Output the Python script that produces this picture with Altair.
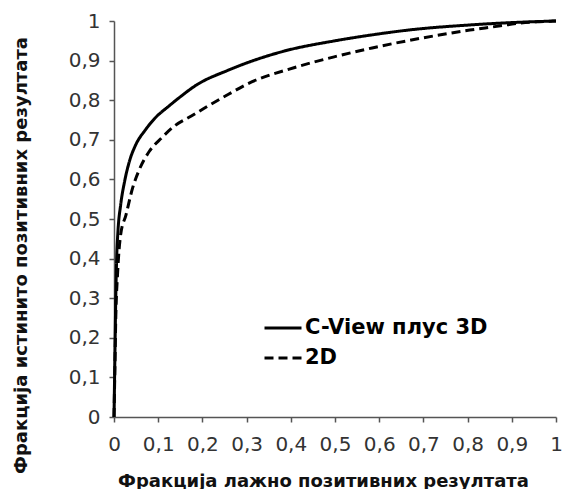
import altair as alt
import pandas as pd

cview_fpr = [0, 0.002, 0.004, 0.006, 0.009, 0.015, 0.024, 0.035, 0.049, 0.071, 0.093, 0.124, 0.146, 0.186, 0.259, 0.385, 0.5, 0.584, 0.673, 0.805, 0.9, 1.0]
cview_tpr = [0, 0.15, 0.3, 0.4, 0.47, 0.535, 0.595, 0.646, 0.687, 0.725, 0.755, 0.785, 0.805, 0.838, 0.876, 0.924, 0.95, 0.965, 0.978, 0.99, 0.996, 1.0]

d2_fpr = [0, 0.002, 0.004, 0.008, 0.015, 0.027, 0.042, 0.057, 0.08, 0.108, 0.137, 0.175, 0.212, 0.259, 0.3, 0.407, 0.5, 0.584, 0.673, 0.805, 0.85, 0.93, 1.0]
d2_tpr = [0, 0.12, 0.25, 0.36, 0.46, 0.51, 0.578, 0.624, 0.671, 0.705, 0.735, 0.76, 0.785, 0.815, 0.84, 0.882, 0.91, 0.932, 0.952, 0.977, 0.984, 0.996, 1.0]

series_names = ["C-View плус 3D", "2D"]
ticks = [0, 0.1, 0.2, 0.3, 0.4, 0.5, 0.6, 0.7, 0.8, 0.9, 1]

rows = []
for i, (f, t) in enumerate(zip(cview_fpr, cview_tpr)):
    rows.append({"fpr": f, "tpr": t, "series": series_names[0], "order": i})
for i, (f, t) in enumerate(zip(d2_fpr, d2_tpr)):
    rows.append({"fpr": f, "tpr": t, "series": series_names[1], "order": i})
df = pd.DataFrame(rows)

label_expr = "datum.value == 0 ? '0' : datum.value == 1 ? '1' : replace(format(datum.value, '.1f'), '.', ',')"
FONT = "DejaVu Sans"

axis_common = dict(
    grid=False,
    values=ticks,
    domainColor="#555555",
    domainWidth=1.5,
    tickColor="#555555",
    tickWidth=1.5,
    tickSize=5,
    labelFont=FONT,
    labelFontSize=20,
    labelColor="#333333",
    labelExpr=label_expr,
    titleFont=FONT,
    titleFontSize=18,
    titleFontWeight="bold",
    titleColor="#111111",
    labelOverlap=False,
    labelFlush=False,
)

chart = alt.Chart(df).mark_line(strokeWidth=3, interpolate="monotone", color="black").encode(
    x=alt.X("fpr:Q", scale=alt.Scale(domain=[0, 1], nice=False),
            axis=alt.Axis(title="Фракција лажно позитивних резултата", labelPadding=12,
                          titleX=209, titleY=64, titleBaseline="middle", titleAlign="center",
                          **axis_common)),
    y=alt.Y("tpr:Q", scale=alt.Scale(domain=[0, 1], nice=False),
            axis=alt.Axis(title="Фракција истинито позитивних резултата", labelPadding=9,
                          titleX=-93, titleY=234, titleAngle=270, titleBaseline="middle",
                          titleAlign="center", **axis_common)),
    strokeDash=alt.StrokeDash("series:N",
        scale=alt.Scale(domain=series_names, range=[[1, 0], [9, 5]]),
        legend=alt.Legend(title=None, orient="none", legendX=149, legendY=287,
                          symbolType="stroke", symbolSize=1369, symbolStrokeWidth=3,
                          symbolStrokeColor="black", symbolDash=[7, 5],
                          labelFont=FONT, labelFontSize=21, labelFontWeight="bold",
                          labelColor="black", labelOffset=2, rowPadding=-1, labelLimit=400)),
    order="order:Q",
).properties(
    width=442, height=396,
    autosize=alt.AutoSizeParams(type="none"),
    padding={"left": 106, "top": 13, "right": 7, "bottom": 72},
).configure_view(stroke=None)

chart.save("out.html", embed_options={"renderer": "svg", "actions": False})
